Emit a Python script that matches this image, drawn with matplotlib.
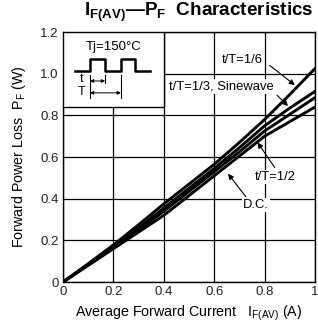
import matplotlib
matplotlib.use("Agg")
import matplotlib.pyplot as plt
from matplotlib.patches import Rectangle

plt.rcParams['font.family'] = ['Liberation Sans', 'DejaVu Sans']
plt.rcParams['mathtext.fontset'] = 'custom'
plt.rcParams['mathtext.rm'] = 'Liberation Sans'
plt.rcParams['mathtext.bf'] = 'Liberation Sans:bold'

# average forward current (A)
current = [0.0, 0.1, 0.2, 0.3, 0.4, 0.5, 0.6, 0.7, 0.8, 0.9, 1.0]
# forward power loss (W) per duty ratio
p_dc = [0.0, 0.08, 0.16, 0.24, 0.32, 0.415, 0.51, 0.605, 0.70, 0.77, 0.84]
p_half = [0.0, 0.082, 0.165, 0.25, 0.34, 0.435, 0.53, 0.625, 0.725, 0.805, 0.885]
p_third = [0.0, 0.085, 0.17, 0.26, 0.355, 0.45, 0.545, 0.645, 0.75, 0.835, 0.915]
p_sixth = [0.0, 0.088, 0.178, 0.275, 0.375, 0.47, 0.565, 0.67, 0.78, 0.90, 1.025]

x_ticks = [0, 0.2, 0.4, 0.6, 0.8, 1.0]
x_labels = ['0', '0.2', '0.4', '0.6', '0.8', '1']
y_ticks = [0, 0.2, 0.4, 0.6, 0.8, 1.0, 1.2]
y_labels = ['0', '0.2', '0.4', '0.6', '0.8', '1.0', '1.2']

# pulse sketch in the inset (data units)
wave_x = [0.048, 0.107, 0.107, 0.167, 0.167, 0.230, 0.230, 0.286, 0.286, 0.345]
wave_y = [1.012, 1.012, 1.07, 1.07, 1.012, 1.012, 1.07, 1.07, 1.012, 1.012]

fig = plt.figure(figsize=(3.18, 3.22), dpi=100)
ax = fig.add_axes([0.198, 0.124, 0.7926, 0.7766])

ax.set_xlim(0, 1)
ax.set_ylim(0, 1.2)
ax.set_xticks(x_ticks)
ax.set_xticklabels(x_labels)
ax.set_yticks(y_ticks)
ax.set_yticklabels(y_labels)
ax.tick_params(length=0, labelsize=9.5, pad=3, colors='#222222')
ax.grid(True, color='black', lw=0.9)
ax.set_axisbelow(True)
for s in ax.spines.values():
    s.set_linewidth(1.0)

for p in (p_dc, p_half, p_third, p_sixth):
    ax.plot(current, p, color='black', lw=2.1, solid_capstyle='round', zorder=3)

# inset box
ax.add_patch(Rectangle((0, 0.84), 0.4, 0.36, facecolor='white',
                       edgecolor='black', lw=1.0, zorder=4))
ax.text(0.2, 1.13, 'Tj=150°C', ha='center', va='center', fontsize=9.5, zorder=5)
ax.plot(wave_x, wave_y, color='black', lw=1.8, zorder=5)
for xv, y0, y1 in [(0.107, 0.885, 0.995), (0.167, 0.955, 0.995), (0.230, 0.885, 0.995)]:
    ax.plot([xv, xv], [y0, y1], color='black', lw=0.8, zorder=5)
ax.annotate('', xy=(0.107, 0.965), xytext=(0.167, 0.965),
            arrowprops=dict(arrowstyle='<|-|>', lw=0.7, color='black', mutation_scale=5,
                            shrinkA=0, shrinkB=0), zorder=5)
ax.annotate('', xy=(0.107, 0.908), xytext=(0.230, 0.908),
            arrowprops=dict(arrowstyle='<|-|>', lw=0.7, color='black', mutation_scale=5,
                            shrinkA=0, shrinkB=0), zorder=5)
ax.text(0.075, 0.975, 't', ha='center', va='center', fontsize=9, zorder=5)
ax.text(0.075, 0.912, 'T', ha='center', va='center', fontsize=9, zorder=5)

box = dict(facecolor='white', edgecolor='none', pad=1.0)
arrow = dict(arrowstyle='-|>', lw=0.8, color='black', mutation_scale=8,
             shrinkA=0, shrinkB=0)
labels = [
    ('t/T=1/6', (0.71, 1.065), (0.92, 0.945), (0.82, 1.04)),
    ('t/T=1/3, Sinewave', (0.627, 0.94), (0.893, 0.845), (0.849, 0.897)),
    ('t/T=1/2', (0.841, 0.504), (0.772, 0.67), (0.84, 0.55)),
    ('D.C.', (0.766, 0.37), (0.655, 0.52), (0.725, 0.41)),
]
for txt, tpos, tip, tail in labels:
    ax.annotate('', xy=tip, xytext=tail, arrowprops=arrow, zorder=6)
    ax.text(tpos[0], tpos[1], txt, ha='center', va='center', fontsize=9.4,
            bbox=box, zorder=6)

ax.set_xlabel(r'Average Forward Current   I$_{\rm F(AV)}$ (A)', fontsize=10.3, labelpad=4)
ax.set_ylabel(r'Forward Power Loss  P$_{\rm F}$ (W)', fontsize=10.3, labelpad=9)
fig.text(0.625, 0.962, r'$\mathbf{I}_{\mathbf{F(AV)}}$—P$_{\mathbf{F}}$  Characteristics',
         ha='center', va='center', fontsize=13.6, fontweight='bold')

fig.savefig('out.png', dpi=100)
